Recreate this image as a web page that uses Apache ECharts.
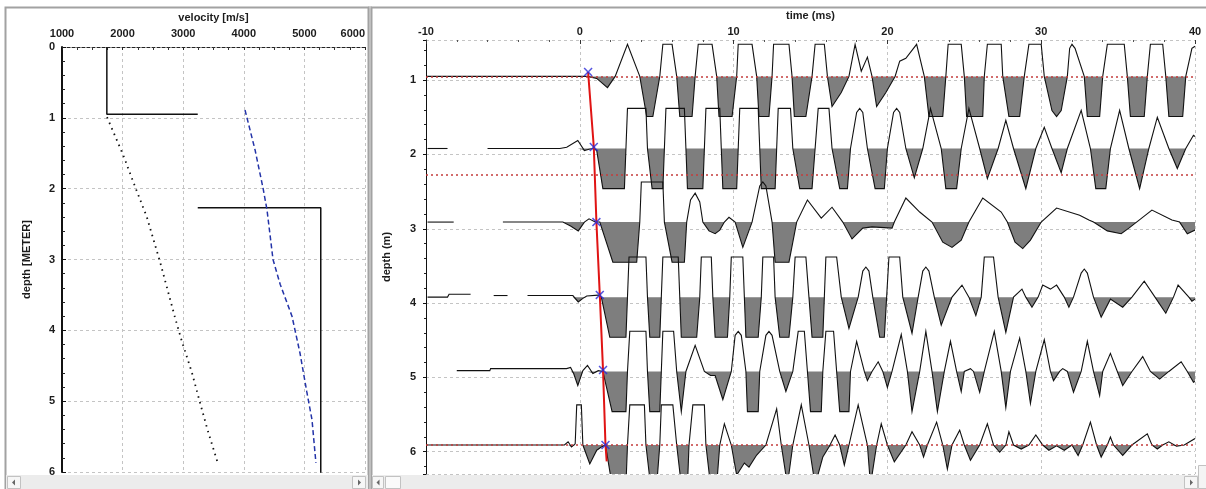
<!DOCTYPE html>
<html><head><meta charset="utf-8">
<script src="https://cdn.jsdelivr.net/npm/echarts@6/dist/echarts.min.js"></script>
<style>html,body{margin:0;padding:0;background:#fff;}#main{width:1206px;height:489px;}</style>
</head><body><div id="main"></div>
<script>
// ---------- left panel: velocity model ----------
const modelUpper = [[1740, 0], [1740, 0.95], [3240, 0.95]];
const modelLower = [[3240, 2.27], [5270, 2.27], [5270, 6.1]];
const vsProfile = [[1743, 0.99], [2007, 1.52], [2205, 1.97], [2400, 2.40], [2617, 3.03], [2865, 3.82], [2980, 4.16], [3145, 4.6], [3277, 5.02], [3410, 5.43], [3580, 5.9]];
const vpProfile = [[4020, 0.89], [4185, 1.45], [4317, 1.99], [4383, 2.3], [4482, 3.0], [4600, 3.35], [4795, 3.8], [4927, 4.32], [5040, 4.87], [5125, 5.26], [5190, 5.87]];

// ---------- right panel: seismic traces (time ms, normalised amplitude, + = down) ----------
const traceDepths = [0.95, 1.92, 2.91, 3.92, 4.92, 5.91];
const layerDepths = [0.95, 2.27, 5.91];
const pickTimes = [0.54, 0.91, 1.08, 1.3, 1.51, 1.67];
const pickDepths = [0.89, 1.90, 2.91, 3.89, 4.90, 5.91];
const redLineTail = [1.75, 6.13];

const trace1 = [[-10,0],[0.5,0],[1.1,0.05],[1.8,0.28],[2.3,0],[3.1,-0.8],[3.9,0],[4.35,1],[4.75,1],[5.2,0],[5.4,-0.8],[6.0,-0.8],[6.3,0],[6.5,1],[7.3,1],[7.5,0],[7.7,-0.8],[8.6,-0.8],[8.9,0],[9.05,1],[9.9,1],[10.2,0],[10.3,-0.8],[11.2,-0.8],[11.5,0],[11.65,1],[12.3,1],[12.5,0],[12.6,-0.8],[13.6,-0.8],[13.8,0],[13.95,1],[14.7,1],[15.1,0],[15.3,-0.8],[15.9,-0.8],[16.1,0],[16.4,0.75],[17.0,0.4],[17.5,0],[17.9,-0.8],[18.3,-0.13],[18.7,-0.48],[19.0,0],[19.3,0.75],[19.9,0.4],[20.5,0],[20.8,-0.38],[21.2,-0.45],[21.9,-0.8],[22.4,0],[22.7,1],[23.6,1],[23.8,0],[23.95,-0.8],[24.8,-0.8],[25.0,0],[25.15,1],[26.2,1],[26.3,0],[26.5,-0.8],[27.4,-0.8],[27.5,0],[27.9,1],[28.6,1],[28.9,0],[29.2,-0.8],[30.0,-0.8],[30.2,0],[30.7,0.85],[31.0,1],[31.3,0.85],[31.7,0],[31.85,-0.7],[32.0,-0.8],[32.2,-0.7],[32.8,0],[33.0,1],[33.8,1],[34.0,0],[34.3,-0.8],[35.4,-0.8],[35.6,0],[35.8,1],[36.7,1],[36.9,0],[37.1,-0.8],[37.9,-0.8],[38.1,0],[38.3,1],[39.2,1],[39.4,0],[39.8,-0.7],[40,-0.75]];
const trace2 = [[-9.9,0],[-8.6,0],null,[-6.0,0],[-1.3,0],[-0.85,-0.03],[-0.13,-0.2],[0.3,0.05],[0.6,0.02],[0.9,0],[1.1,0.05],[1.5,1],[2.9,1],[3.0,0],[3.1,-1],[4.3,-1],[4.4,0],[4.7,1],[5.4,1],[5.5,0],[5.6,-1],[6.8,-1],[6.9,0],[7.0,1],[8.0,1],[8.1,0],[8.2,-1],[9.1,-1],[9.2,0],[9.3,1],[10.2,1],[10.3,0],[10.4,-1],[11.6,-1],[11.7,0],[11.8,1],[12.7,1],[12.8,0],[12.9,-1],[13.7,-1],[13.85,0],[14.3,1],[15.1,1],[15.3,0],[15.5,-1],[16.2,-1],[16.4,0],[16.9,1],[17.4,1],[17.6,0],[18.0,-0.9],[18.2,-1],[18.4,-0.9],[18.7,0],[19.2,1],[19.8,1],[20.0,0],[20.4,-0.9],[20.6,-1],[20.8,-0.9],[21.2,0],[21.75,0.73],[22.3,0],[22.8,-1],[23.5,0],[23.8,1],[24.5,1],[24.8,0],[25.3,-1],[26.0,0],[26.5,0.75],[27.2,0],[27.7,-0.7],[28.2,0],[29.0,1],[29.65,0],[30.2,-0.53],[30.7,0],[31.3,0.6],[31.7,0],[32.6,-0.95],[33.2,0],[33.55,1],[34.2,1],[34.5,0],[35.1,-0.95],[35.7,0],[36.4,1],[37.0,0],[37.55,-0.78],[38.3,0],[38.85,0.5],[39.4,0],[39.9,-0.33],[40,-0.3]];
const trace3 = [[-9.9,0],[-8.2,0],null,[-5.0,0],[-1.1,0],[-0.6,0.1],[-0.1,0.22],[0.3,0],[0.6,-0.08],[1.0,0],[1.3,0],[2.15,1],[3.7,1],[3.9,0],[4.0,-1],[5.4,-1],[5.5,0],[6.0,1],[6.8,1],[6.95,0],[7.2,-0.55],[7.5,-0.72],[7.8,-0.5],[8.0,0],[8.4,0.22],[8.8,0.29],[9.1,0.2],[9.4,0],[9.7,-0.12],[10.1,0],[10.6,0.63],[11.2,0],[11.7,-0.9],[11.9,-1],[12.1,-0.9],[12.5,0],[12.7,1],[13.6,1],[14.1,0],[14.8,-0.55],[15.7,-0.1],[16.4,-0.37],[17.1,0],[17.7,0.42],[18.4,0.15],[19.0,0.12],[20.3,0.15],[20.45,0],[21.2,-0.6],[22.1,-0.25],[22.9,0],[23.6,0.5],[24.2,0.63],[24.8,0.45],[25.3,0],[26.2,-0.6],[27.4,-0.25],[27.8,0],[28.3,0.5],[28.8,0.66],[29.3,0.45],[30.0,0],[31.0,-0.35],[32.5,-0.17],[33.1,-0.05],[33.4,0],[34.3,0.22],[35.2,0.29],[35.7,0.15],[36.2,0],[37.2,-0.3],[38.5,-0.05],[39.0,0],[39.5,0.29],[40,0.2]];
const trace4 = [[-9.9,0],[-8.6,0],[-8.5,-0.07],[-7.1,-0.07],null,[-5.6,-0.04],[-4.7,-0.04],null,[-3.4,-0.04],[-0.45,-0.04],[-0.1,0.12],[0.2,0.03],[0.45,-0.03],[1.2,-0.05],[1.4,0],[1.95,1],[3.0,1],[3.1,0],[3.2,-1],[4.3,-1],[4.4,0],[4.55,1],[5.2,1],[5.3,0],[5.4,-1],[6.4,-1],[6.5,0],[6.6,1],[7.6,1],[7.8,0],[7.9,-1],[8.55,-1],[8.65,0],[8.8,1],[9.6,1],[9.75,0],[9.85,-1],[10.6,-1],[10.7,0],[10.8,1],[11.6,1],[11.8,0],[11.9,-1],[12.6,-1],[12.7,0],[13.0,1],[13.6,1],[13.85,0],[14.0,-1],[14.7,-1],[14.9,0],[15.1,1],[15.8,1],[15.9,0],[16.0,-1],[16.7,-1],[17.0,0],[17.5,0.78],[18.1,0],[18.4,-0.65],[18.6,-0.75],[18.8,-0.65],[19.05,0],[19.5,1],[19.8,1],[19.95,0],[20.1,-1],[20.8,-1],[21.0,0],[21.6,0.9],[22.0,0],[22.3,-0.65],[22.5,-0.75],[22.7,-0.65],[23.05,0],[23.5,0.7],[24.2,0],[24.85,-0.3],[25.3,0],[25.75,0.46],[26.1,0],[26.3,-1],[26.9,-1],[27.2,0],[27.7,0.88],[28.2,0],[28.75,-0.2],[29.0,0],[29.4,0.25],[29.8,0],[30.1,-0.3],[30.6,-0.2],[31.0,-0.3],[31.5,0],[31.8,0.25],[32.1,0],[32.6,-0.6],[32.8,-0.7],[33.0,-0.6],[33.4,0],[33.9,0.5],[34.5,0.05],[35.3,0.25],[35.9,0],[36.7,-0.4],[37.4,0],[38.1,0.4],[38.6,0],[38.9,-0.3],[39.6,0],[39.8,0.1],[40,0.05]];
const trace5 = [[-8.0,-0.02],[-5.85,-0.02],[-5.8,-0.07],[-0.86,-0.07],[-0.6,-0.1],[-0.4,0.05],[-0.13,0.35],[0.2,-0.02],[0.5,-0.15],[0.85,0.05],[1.2,-0.02],[1.5,0],[2.1,1],[3.0,1],[3.1,0],[3.25,-1],[4.3,-1],[4.4,0],[4.55,1],[5.2,1],[5.3,0],[5.4,-1],[6.1,-1],[6.3,0],[6.6,1],[6.9,0],[7.5,-0.65],[8.1,0],[8.5,0.1],[8.8,0.1],[9.3,0.7],[9.85,0],[10.1,-0.9],[10.3,-1],[10.5,-0.9],[10.8,0],[10.9,1],[11.6,1],[11.7,0],[12.1,-0.9],[12.3,-1],[12.5,-0.9],[13.0,0],[13.4,0.5],[13.85,0],[14.2,-1],[14.6,-1],[14.8,0],[15.0,1],[15.7,1],[15.8,0],[16.0,-1],[16.5,-1],[16.7,0],[16.9,1],[17.5,1],[17.6,0],[18.0,-0.75],[18.5,0],[18.7,0.23],[19.0,0],[19.4,-0.24],[19.7,0],[20.0,0.4],[20.3,0],[20.9,-0.92],[21.3,0],[21.6,1],[22.1,0],[22.5,-1],[22.9,0],[23.25,1],[23.7,0],[24.1,-0.75],[24.5,0],[24.8,0.5],[25.0,0],[25.4,-0.07],[25.6,0],[26.0,0.52],[26.3,0],[26.95,-1],[27.4,0],[27.7,0.9],[28.0,0],[28.6,-0.83],[29.0,0],[29.3,0.8],[29.65,0],[30.2,-0.79],[30.6,0],[30.8,0.23],[31.2,0],[31.4,-0.07],[31.7,0],[32.1,0.52],[32.6,0],[33.0,-0.75],[33.4,0],[33.8,0.6],[34.0,0],[34.5,-0.45],[34.95,0],[35.3,0.35],[35.9,0],[36.6,-0.37],[37.1,0],[37.7,0.19],[38.3,0],[39.1,-0.24],[39.5,0],[39.9,0.27],[40,0.25]];
const trace6 = [[-10,0],[-1.0,0],[-0.76,-0.08],[-0.54,0.05],[-0.3,-0.03],[-0.2,-1],[0.1,-1],[0.2,0],[0.65,0.47],[1.1,0.13],[1.4,0.05],[1.67,0],[2.1,1],[3.0,1],[3.1,0],[3.25,-1],[4.2,-1],[4.3,0],[4.6,1],[5.0,1],[5.2,0],[5.3,-1],[6.05,-1],[6.3,0],[6.6,1],[7.0,1],[7.1,0],[7.35,-1],[8.1,-1],[8.2,0],[8.5,1],[8.9,1],[9.1,0],[9.4,-0.53],[9.85,0],[10.2,0.75],[10.7,0.45],[11.0,0.55],[11.5,0.25],[12.1,0],[12.8,-0.9],[13.1,0],[13.5,1],[13.85,0],[14.4,-1],[14.9,0],[15.3,1],[15.8,0.3],[16.2,0.05],[16.6,-0.25],[16.9,0],[17.2,0.5],[17.5,0],[18.1,-1],[18.7,0],[18.9,1],[19.3,0],[19.6,-0.53],[20.0,0],[20.45,0.42],[21.2,0],[21.6,-0.33],[22.1,0],[22.35,0.3],[22.6,0],[23.2,-0.57],[23.6,0],[23.9,0.6],[24.2,0],[24.7,-0.37],[25.0,0],[25.4,0.38],[26.0,0],[26.5,-0.53],[26.9,0],[27.3,0.18],[27.7,0],[27.9,-0.33],[28.2,0],[28.7,0.1],[29.2,0],[29.65,-0.25],[30.1,0],[30.5,0.13],[31.0,0.02],[31.5,0.13],[32.0,0],[32.4,0.26],[32.7,0],[33.2,-0.57],[33.6,0],[33.9,0.3],[34.3,0],[34.5,-0.2],[34.7,0],[35.3,0.26],[35.9,0],[36.9,-0.28],[37.2,0],[37.55,0.1],[37.9,0],[38.3,-0.08],[38.8,0.03],[39.3,0],[40,-0.16]];
const traces = [trace1, trace2, trace3, trace4, trace5, trace6];

// ---------- styling constants ----------
const AMP_SCALE = 0.54;          // depth units per unit amplitude
const FONT = 'Liberation Sans, Arial, sans-serif';
const TXT = '#1c1c1c';
const GRIDLINE = {show: true, lineStyle: {color: '#c4c4c4', type: [3, 3], width: 1}};
const X_SYMBOL = 'path://M0,1.2L1.2,0L5,3.8L8.8,0L10,1.2L6.2,5L10,8.8L8.8,10L5,6.2L1.2,10L0,8.8L3.8,5Z';

function splitSegments(tr) {
  const segs = []; let cur = [];
  tr.forEach(p => { if (p === null) { if (cur.length) segs.push(cur); cur = []; } else cur.push(p); });
  if (cur.length) segs.push(cur);
  return segs;
}

function renderTrace(params, api) {
  const idx = api.value(2);
  const base = traceDepths[idx];
  const segs = splitSegments(traces[idx]);
  const children = [];
  segs.forEach(s => {
    const pts = s.map(p => api.coord([p[0], base + Math.max(p[1], 0) * AMP_SCALE]));
    pts.unshift(api.coord([s[0][0], base]));
    pts.push(api.coord([s[s.length - 1][0], base]));
    children.push({type: 'polygon', shape: {points: pts}, style: {fill: '#7e7e7e', stroke: null}});
  });
  segs.forEach(s => {
    children.push({type: 'polyline',
      shape: {points: s.map(p => api.coord([p[0], base + p[1] * AMP_SCALE]))},
      style: {fill: 'none', stroke: '#111', lineWidth: 1.1}});
  });
  return {type: 'group', children};
}

const labelStyle = {fontFamily: FONT, fontSize: 11, fontWeight: 'bold', color: TXT};
const nameStyle = {fontFamily: FONT, fontSize: 11, fontWeight: 'bold', color: TXT};

// chrome (window frames & scrollbars)
function tri(x, y, dir) {
  return dir < 0 ? [[x + 3, y], [x, y + 3], [x + 3, y + 6]] : [[x, y], [x + 3, y + 3], [x, y + 6]];
}
const graphic = [
  {type: 'rect', z: 100, silent: true, shape: {x: 368, y: 6, width: 4, height: 483}, style: {fill: '#dcdcdc'}},
  {type: 'rect', z: 100, silent: true, shape: {x: 5.5, y: 7.5, width: 363, height: 481}, style: {fill: 'none', stroke: '#a2a2a2', lineWidth: 2}},
  {type: 'rect', z: 100, silent: true, shape: {x: 371.5, y: 7.5, width: 840, height: 481}, style: {fill: 'none', stroke: '#a2a2a2', lineWidth: 2}},
  {type: 'rect', z: 100, silent: true, shape: {x: 6, y: 475, width: 362, height: 14}, style: {fill: '#ececec'}},
  {type: 'rect', z: 100, silent: true, shape: {x: 372, y: 475, width: 834, height: 14}, style: {fill: '#ececec'}},
  {type: 'rect', z: 101, silent: true, shape: {x: 1198.5, y: 465.5, width: 8, height: 23}, style: {fill: '#f4f4f4', stroke: '#c2c2c2'}},
  {type: 'rect', z: 101, silent: true, shape: {x: 7.5, y: 476.5, width: 13, height: 12}, style: {fill: '#f6f6f6', stroke: '#c2c2c2'}},
  {type: 'rect', z: 101, silent: true, shape: {x: 352.5, y: 476.5, width: 13, height: 12}, style: {fill: '#f6f6f6', stroke: '#c2c2c2'}},
  {type: 'rect', z: 101, silent: true, shape: {x: 372.5, y: 476.5, width: 11, height: 12}, style: {fill: '#f6f6f6', stroke: '#c2c2c2'}},
  {type: 'rect', z: 101, silent: true, shape: {x: 385.5, y: 476.5, width: 15, height: 12}, style: {fill: '#fafafa', stroke: '#c2c2c2'}},
  {type: 'rect', z: 101, silent: true, shape: {x: 1184.5, y: 476.5, width: 13, height: 12}, style: {fill: '#f6f6f6', stroke: '#c2c2c2'}},
  {type: 'polygon', z: 102, silent: true, shape: {points: tri(12, 479.5, -1)}, style: {fill: '#666'}},
  {type: 'polygon', z: 102, silent: true, shape: {points: tri(358, 479.5, 1)}, style: {fill: '#666'}},
  {type: 'polygon', z: 102, silent: true, shape: {points: tri(376.5, 479.5, -1)}, style: {fill: '#666'}},
  {type: 'polygon', z: 102, silent: true, shape: {points: tri(1190, 479.5, 1)}, style: {fill: '#666'}}
];

const chart = echarts.init(document.getElementById('main'), null, {renderer: 'canvas'});
chart.setOption({
  animation: false,
  backgroundColor: '#fff',
  textStyle: {fontFamily: FONT},
  grid: [
    {left: 62, top: 47, width: 303, height: 425},
    {left: 426, top: 40, width: 769, height: 434}
  ],
  xAxis: [
    {type: 'value', gridIndex: 0, position: 'top', min: 1000, max: 6000, interval: 1000,
      name: 'velocity [m/s]', nameLocation: 'middle', nameGap: 20, nameTextStyle: nameStyle,
      axisLine: {show: true, onZero: false, lineStyle: {color: '#222', type: [3, 2], width: 1}},
      axisTick: {show: true, inside: true, length: 3, lineStyle: {color: '#222'}},
      minorTick: {show: true, splitNumber: 4, length: 3, lineStyle: {color: '#333'}},
      axisLabel: Object.assign({margin: 8, alignMaxLabel: 'right', formatter: v => String(v)}, labelStyle),
      splitLine: GRIDLINE},
    {type: 'value', gridIndex: 1, position: 'top', min: -10, max: 40, interval: 10,
      name: 'time (ms)', nameLocation: 'middle', nameGap: 17, nameTextStyle: nameStyle,
      axisLine: {show: false, onZero: false},
      axisTick: {show: true, inside: true, length: 4, lineStyle: {color: '#333'}},
      minorTick: {show: true, splitNumber: 5, length: 2, lineStyle: {color: '#555'}},
      axisLabel: Object.assign({margin: 3, formatter: v => String(v)}, labelStyle),
      splitLine: GRIDLINE}
  ],
  yAxis: [
    {type: 'value', gridIndex: 0, inverse: true, min: 0, max: 6, interval: 1,
      name: 'depth [METER]', nameLocation: 'middle', nameGap: 30, nameRotate: 90, nameTextStyle: nameStyle,
      axisLine: {show: true, onZero: false, lineStyle: {color: '#111', width: 2}},
      axisTick: {show: true, inside: true, length: 4, lineStyle: {color: '#111'}},
      minorTick: {show: true, splitNumber: 5, length: 3, lineStyle: {color: '#222'}},
      axisLabel: Object.assign({margin: 7}, labelStyle),
      splitLine: GRIDLINE},
    {type: 'value', gridIndex: 1, inverse: true, min: 0.46, max: 6.3, splitNumber: 6,
      name: 'depth (m)', nameLocation: 'middle', nameGap: 34, nameRotate: 90, nameTextStyle: nameStyle,
      axisLine: {show: true, onZero: false, lineStyle: {color: '#111', width: 1}},
      axisTick: {show: true, length: 3, lineStyle: {color: '#111'}},
      minorTick: {show: true, splitNumber: 5, length: 2, lineStyle: {color: '#222'}},
      axisLabel: Object.assign({margin: 10, showMinLabel: false, showMaxLabel: false,
        formatter: v => Math.abs(v - Math.round(v)) < 1e-6 ? String(Math.round(v)) : ''}, labelStyle),
      splitLine: GRIDLINE}
  ],
  series: [
    {type: 'line', xAxisIndex: 0, yAxisIndex: 0, data: modelUpper, symbol: 'none', lineStyle: {color: '#111', width: 1.5}, z: 3},
    {type: 'line', xAxisIndex: 0, yAxisIndex: 0, data: modelLower, symbol: 'none', lineStyle: {color: '#111', width: 1.5}, z: 3},
    {type: 'line', xAxisIndex: 0, yAxisIndex: 0, data: vsProfile, symbol: 'none', lineStyle: {color: '#111', width: 1.8, type: [1.5, 4.5]}, z: 3},
    {type: 'line', xAxisIndex: 0, yAxisIndex: 0, data: vpProfile, symbol: 'none', lineStyle: {color: '#2333a8', width: 1.5, type: [5, 3]}, z: 3},
    {type: 'custom', xAxisIndex: 1, yAxisIndex: 1, clip: true, z: 2,
      data: traceDepths.map((d, i) => [0, d, i]), encode: {x: 0, y: 1},
      renderItem: renderTrace},
    {type: 'line', xAxisIndex: 1, yAxisIndex: 1, symbol: 'none', z: 5,
      data: pickTimes.map((t, i) => [t, pickDepths[i]]).concat([redLineTail]),
      lineStyle: {color: '#e01414', width: 2},
      markLine: {silent: true, symbol: ['none', 'none'], label: {show: false},
        lineStyle: {color: '#c43c3c', type: [2, 3], width: 1.5},
        data: layerDepths.map(d => ({yAxis: d}))}},
    {type: 'scatter', xAxisIndex: 1, yAxisIndex: 1, z: 6, symbol: X_SYMBOL, symbolSize: 9,
      data: pickTimes.map((t, i) => [t, pickDepths[i]]), itemStyle: {color: '#2a2ad8'}}
  ],
  graphic: graphic
});
</script></body></html>
